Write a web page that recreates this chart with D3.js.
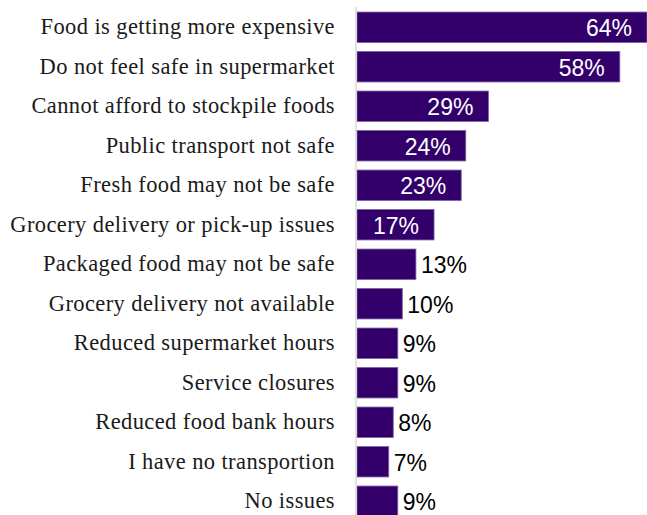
<!DOCTYPE html>
<html><head><meta charset="utf-8">
<script src="https://cdn.jsdelivr.net/npm/d3@7/dist/d3.min.js"></script>
<style>body{margin:0;background:#fff;}svg{display:block;}
.cat{font-family:"Liberation Serif","DejaVu Serif",serif;letter-spacing:0.4px;}
.val{font-family:"Liberation Sans",Arial,sans-serif;}
</style>
</head><body>
<script>
const categories = ["Food is getting more expensive","Do not feel safe in supermarket","Cannot afford to stockpile foods","Public transport not safe","Fresh food may not be safe","Grocery delivery or pick-up issues","Packaged food may not be safe","Grocery delivery not available","Reduced supermarket hours","Service closures","Reduced food bank hours","I have no transportion","No issues"];
const values = [64,58,29,24,23,17,13,10,9,9,8,7,9];
const insideLabel = [true,true,true,true,true,true,false,false,false,false,false,false,false];

const W=647,H=515;
const svg=d3.select("body").append("svg").attr("width",W).attr("height",H);
const x0=357;
const x=d3.scaleLinear().domain([0,64]).range([x0,647]);
const y=d3.scaleBand().domain(categories).range([7.5,521]).paddingInner(0.23).paddingOuter(0.115);

const data=categories.map((c,i)=>({c,v:values[i],inside:insideLabel[i]}));

svg.selectAll("rect.bar").data(data).enter().append("rect")
 .attr("x",x(0)).attr("y",d=>y(d.c)).attr("width",d=>x(d.v)-x(0)).attr("height",y.bandwidth())
 .attr("fill","#33006b").attr("stroke","#7b5fa3").attr("stroke-width",0.8);

svg.append("line").attr("x1",356).attr("x2",356).attr("y1",7).attr("y2",H)
 .attr("stroke","#d9d9d9").attr("stroke-width",1.5);

svg.selectAll("text.cat").data(data).enter().append("text").attr("class","cat")
 .attr("x",335).attr("y",d=>y(d.c)+y.bandwidth()/2).attr("dy","0.3em")
 .attr("text-anchor","end")
 .attr("font-size",22.5).attr("fill","#1a1a1a").text(d=>d.c);

svg.selectAll("text.val").data(data).enter().append("text").attr("class","val")
 .attr("x",d=>d.inside? x(d.v)-15 : x(d.v)+5)
 .attr("y",d=>y(d.c)+y.bandwidth()/2).attr("dy","0.4em")
 .attr("text-anchor",d=>d.inside?"end":"start")
 .attr("font-size",23)
 .attr("fill",d=>d.inside?"#fff":"#000").text(d=>d.v+"%");
</script>
</body></html>
